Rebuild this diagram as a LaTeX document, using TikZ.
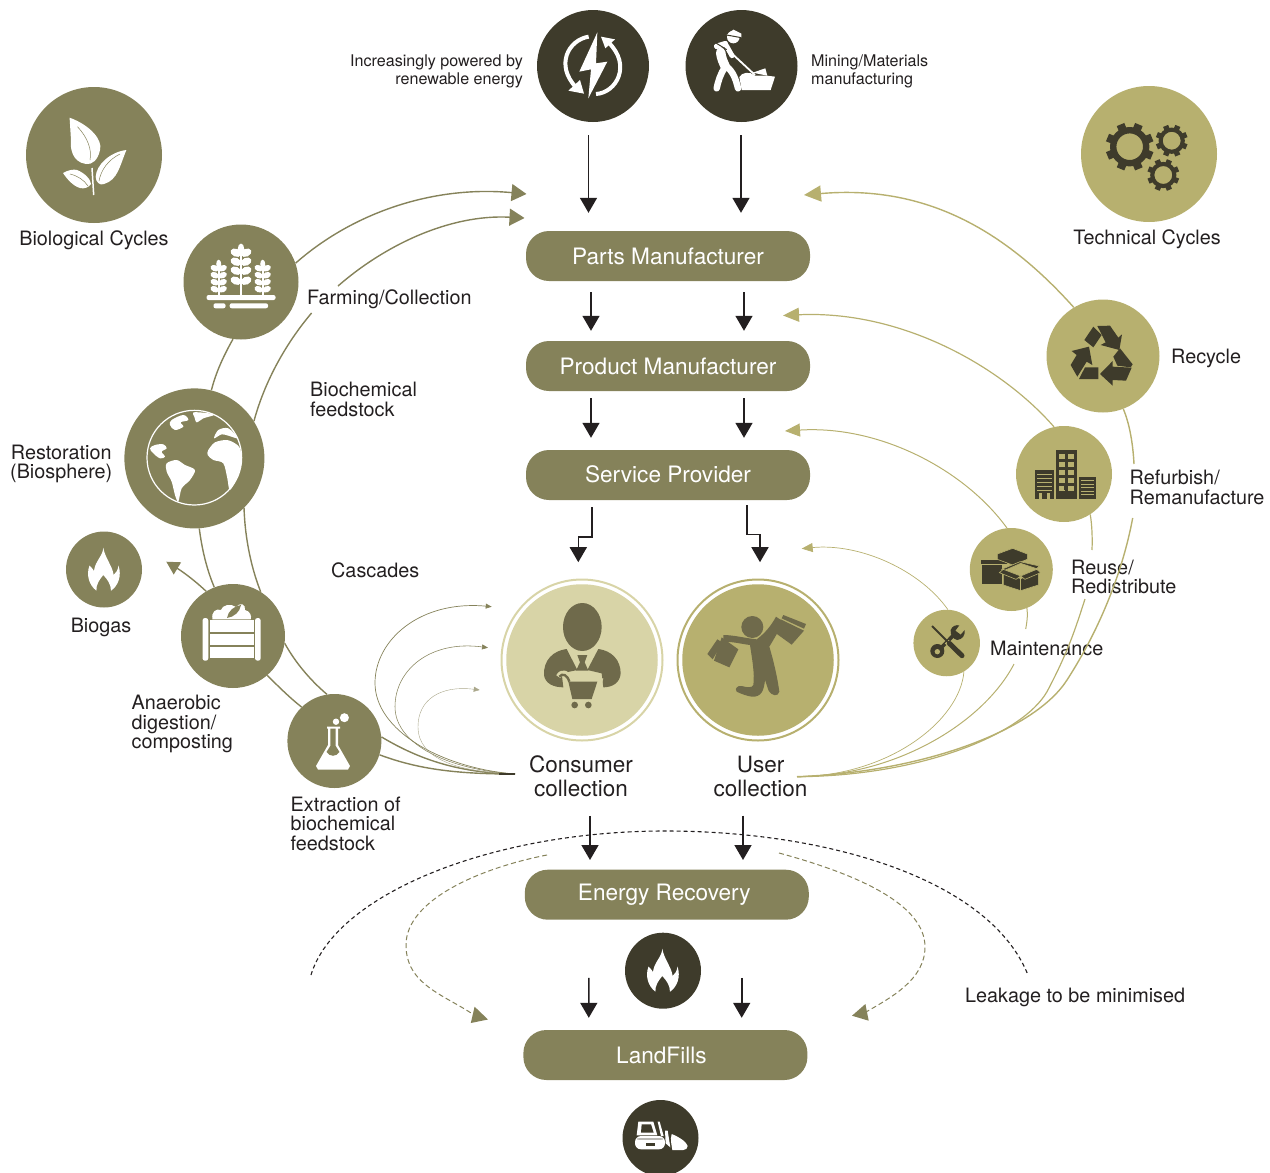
\documentclass[tikz,border=0pt]{standalone}
\usepackage{fontspec}
\setmainfont{TeX Gyre Heros}
\usetikzlibrary{arrows.meta,calc}
\definecolor{olive}{HTML}{85825A}
\definecolor{darkol}{HTML}{3E3B2B}
\definecolor{khaki}{HTML}{B7B06F}
\definecolor{lightk}{HTML}{D8D4A7}
\definecolor{figcol}{HTML}{6F6A4B}
\definecolor{inkcol}{HTML}{231F20}
\tikzset{
  disc/.style={circle,inner sep=0pt,draw=none,fill=#1},
  pill/.style={rectangle,rounded corners=23pt,minimum width=284pt,minimum height=50pt,inner sep=0pt,fill=olive,text=white,font=\fontsize{22.6}{24}\selectfont},
  lab/.style={inner sep=0pt,text=inkcol,font=\fontsize{19.8}{19.6}\selectfont},
  labsmall/.style={inner sep=0pt,text=inkcol,font=\fontsize{16.1}{18}\selectfont},
  labbig/.style={inner sep=0pt,text=inkcol,align=center,font=\fontsize{22.5}{24}\selectfont},
  flow/.style={draw=inkcol,line width=1.6pt,-{Triangle[length=15pt,width=17pt]}},
  bioline/.style={draw=olive,line width=1.4pt},
  bioarrow/.style={bioline,-{Triangle[length=15pt,width=17pt]}},
  cascade/.style={draw=olive,-{Triangle[length=6pt,width=5pt]}},
  techline/.style={draw=khaki,line width=#1},
  techline/.default=1.2pt,
  leakblack/.style={draw=inkcol,line width=1.1pt,dash pattern=on 4pt off 3pt},
  leakolive/.style={draw=olive,line width=1pt,dash pattern=on 5pt off 3pt},
}
\newcommand\fireicon[3]{%
  \fill[#3,shift={(#1,#2)}] (-.7,-22.3) .. controls (-1,-14) and (-9,-9) .. (-10,1)
    .. controls (-11,-1) and (-13,-3) .. (-14.5,-4.5) .. controls (-18,5) and (-15,15) .. (-7.6,20.7)
    .. controls (-8,15) and (-5,10) .. (-.7,5) .. controls (3,9) and (7,14) .. (7,20.7)
    .. controls (14,16) and (18,6) .. (14.5,-4.5) .. controls (14,0) and (12,3) .. (9.6,5)
    .. controls (9,-3) and (1,-12) .. (-.7,-22.3) -- cycle;
}
\newcommand\gearicon[5]{% cx cy outer hole colour
  \begin{scope}[shift={(#1,#2)}]
    \pgfmathsetmacro\gearring{0.82*#3}
    \pgfmathsetmacro\gearmid{(\gearring+#4)/2}
    \pgfmathsetmacro\gearw{\gearring-#4}
    \draw[#5,line width=\gearw pt] (0,0) circle (\gearmid);
    \foreach \ang in {0,45,...,315}{
      \fill[#5,rotate=\ang+22.5] ({0.72*#3},{-0.17*#3}) rectangle (#3,{0.17*#3});
    }
  \end{scope}
}
\newcommand\wheatstalk[5]{% x ytop ybot list size
  \draw[white,line width=1.6pt] (#1,#2) -- (#1,#3);
  \fill[white] (#1,#2) ellipse ({3.2*#5} and {5.5*#5});
  \foreach \yy in {#4}{
    \begin{scope}[shift={(#1,\yy)},scale=#5]
      \fill[white,rotate=24] (5.6,0) ellipse (5.6 and 3.9);
      \fill[white,rotate=-24] (-5.6,0) ellipse (5.6 and 3.9);
    \end{scope}
  }
}
\begin{document}
\begin{tikzpicture}[x=1pt,y=-1pt]
\clip (0,0) rectangle (1270,1173);
% ---------- nodes: discs
\node[disc=olive,minimum size=136pt] (bio) at (94,155) {};
\node[disc=olive,minimum size=115pt] (farm) at (241,282) {};
\node[disc=olive,minimum size=140pt] (rest) at (194.4,458.4) {};
\node[disc=olive,minimum size=76pt] (biogas) at (104,569.5) {};
\node[disc=olive,minimum size=104pt] (ana) at (233,636) {};
\node[disc=olive,minimum size=94pt] (ext) at (334.4,741) {};
\node[disc=darkol,minimum size=112pt] (light) at (593,66) {};
\node[disc=darkol,minimum size=112pt] (worker) at (741.5,66) {};
\node[disc=khaki,minimum size=136pt] (tech) at (1149,154) {};
\node[disc=khaki,minimum size=113pt] (recy) at (1103,356) {};
\node[disc=khaki,minimum size=96pt] (refu) at (1064,474) {};
\node[disc=khaki,minimum size=83pt] (reuse) at (1011.3,569.5) {};
\node[disc=khaki,minimum size=66.5pt] (maint) at (946.7,643) {};
\node[circle,inner sep=0pt,draw=lightk,line width=2pt,fill=white,minimum size=161pt] (conring) at (582,660) {};
\node[disc=lightk,minimum size=151.5pt] (con) at (582,660) {};
\node[circle,inner sep=0pt,draw=khaki,line width=2pt,fill=white,minimum size=161pt] (userring) at (758,660) {};
\node[disc=khaki,minimum size=151.5pt] (user) at (758,660) {};
\node[disc=darkol,minimum size=76pt] (firedark) at (663,970.7) {};
\node[disc=darkol,minimum size=76pt] (dozer) at (660.5,1138) {};
% ---------- pills
\node[pill] (parts) at (668,256) {Parts Manufacturer};
\node[pill] (product) at (668,366) {Product Manufacturer};
\node[pill] (service) at (668,475) {\raisebox{1pt}{Service Provider}};
\node[pill] (energy) at (666.8,894.7) {\hspace*{-5pt}\raisebox{-2pt}{Energy Recovery}};
\node[pill] (land) at (665.4,1055) {\hspace*{-8pt}LandFills};
% ---------- labels
\node[labsmall,align=right,anchor=east] (tpow) at (523,71) {Increasingly powered by\\renewable energy};
\node[labsmall,align=left,anchor=west] (tmin) at (811,71.5) {Mining/Materials\\manufacturing};
\node[lab] (tbio) at (94,240) {Biological Cycles};
\node[lab] (ttech) at (1147,239) {Technical Cycles};
\node[lab,anchor=west] (tfarm) at (307,299) {Farming/Collection};
\node[lab,anchor=west,align=left] (tfeed) at (310,399.2) {Biochemical\\feedstock};
\node[lab,anchor=east,align=center] (trest) at (112.5,464) {Restoration\\(Biosphere)};
\node[lab] (tgas) at (101,627) {Biogas};
\node[lab,anchor=west] (tcasc) at (331,570) {Cascades};
\node[lab,anchor=west,align=left] (tana) at (131.5,724) {Anaerobic\\digestion/\\composting};
\node[lab,anchor=west,align=left] (text) at (290.5,823.5) {Extraction of\\biochemical\\feedstock};
\node[lab,anchor=west] (trecy) at (1171,358) {Recycle};
\node[lab,anchor=west,align=left] (trefu) at (1129.5,487.5) {Refurbish/\\Remanufacture};
\node[lab,anchor=west,align=left] (treuse) at (1071,577) {Reuse/\\Redistribute};
\node[lab,anchor=west] (tmaint) at (990,648) {Maintenance};
\node[labbig] (concoll) at (581,776) {Consumer\\collection};
\node[labbig] (usercoll) at (760.5,776) {User\\collection};
\node[lab,anchor=west] (tleak) at (965,997) {Leakage to be minimised};
% ---------- free ends
\coordinate (cc) at (515,774);
\coordinate (cu) at (797,776.7);
\coordinate (gasend) at (166.3,561.7);
\coordinate (gapA) at (311.6,313);
\coordinate (gapB) at (338,286);
\coordinate (tipA) at (526.5,194);
\coordinate (tipB) at (524.5,218);
\coordinate (tipR) at (804,195);
\coordinate (tipF) at (783,315.5);
\coordinate (tipU) at (785,431);
\coordinate (tipM) at (801.7,548.6);
\coordinate (gapR1) at (1134,464);
\coordinate (gapR2) at (1132.7,518);
\coordinate (gapF1) at (1092,550);
\coordinate (gapF2) at (1085,599);
\coordinate (gapU1) at (1025.7,629);
\coordinate (gapU2) at (1014,664);
\coordinate (casc1) at (491.7,606.7);
\coordinate (casc2) at (488,647.7);
\coordinate (casc3) at (479.7,690);
\coordinate (lkL) at (311,975);
\coordinate (lkT) at (665,831);
\coordinate (lkR) at (1028,975);
\coordinate (ldL) at (547,855);
\coordinate (ldLm) at (406,945);
\coordinate (ldLe) at (474,1015);
\coordinate (ldR) at (779,853);
\coordinate (ldRm) at (925,947);
\coordinate (ldRe) at (866,1012);
% ---------- biological connectors
\draw[bioarrow] (farm.19) .. controls (350,215) and (430,185) .. (tipA);
\draw[bioarrow] (gapB) .. controls (385,245) and (450,214) .. (tipB);
\draw[bioline] (rest.32) .. controls (265,380) and (287,342) .. (gapA);
\draw[bioline] (rest.76) .. controls (216,372) and (224,355) .. (farm.262);
\draw[bioline] (rest.274) .. controls (202,550) and (207,570) .. (ana.111);
\draw[bioline] (rest.315) .. controls (245,540) and (252,570) .. (ana.58);
\draw[bioline] (ana.311) .. controls (279,687) and (290,698) .. (ext.134);
\draw[bioline] (ana.352) .. controls (295,662) and (310,680) .. (ext.99);
\draw[bioline] (ext.5) .. controls (420,760) and (460,773) .. (cc);
\draw[bioline] (ext.343) .. controls (420,770) and (460,774) .. (cc);
\draw[bioline,-{Triangle[length=13pt,width=14pt]}] (ana.121) .. controls (192,578) and (180,570) .. (gasend);
\draw[cascade,line width=.7pt] (cc) .. controls (440,768) and (375,730) .. (375,683) .. controls (375,640) and (420,600) .. (casc1);
\draw[cascade,line width=.55pt] (cc) .. controls (450,770) and (395,745) .. (395,706.7) .. controls (395,670) and (430,640) .. (casc2);
\draw[cascade,draw=olive!70,line width=.4pt] (cc) .. controls (460,772) and (418,760) .. (418,726.7) .. controls (418,700) and (440,685) .. (casc3);
\draw[draw=darkol,line width=1.4pt] (499,774) -- (cc);
% ---------- technical connectors
\draw[techline=1.4pt,-{Triangle[length=17pt,width=16pt]}] (recy.121) .. controls (1000,225) and (920,185) .. (tipR);
\draw[techline=1.2pt,-{Triangle[length=16pt,width=14pt]}] (refu.102) .. controls (1000,365) and (900,310) .. (tipF);
\draw[techline=1pt,-{Triangle[length=15pt,width=13pt]}] (reuse.96) .. controls (965,470) and (880,425) .. (tipU);
\draw[techline=.7pt,-{Triangle[length=11pt,width=9pt]}] (maint.88) .. controls (920,570) and (860,543) .. (tipM);
\draw[techline=1.4pt] (recy.291.6) .. controls (1130,425) and (1133,445) .. (gapR1);
\draw[techline=1.4pt] (gapR2) .. controls (1122,575) and (1098,632) .. (1067,680) .. controls (1035,730) and (925,772) .. (cu);
\draw[techline=1.2pt] (refu.303.7) .. controls (1092,525) and (1092.5,538) .. (gapF1);
\draw[techline=1.2pt] (gapF2) .. controls (1075,630) and (1068,652) .. (1047,691.7) .. controls (1022,735) and (920,776) .. (cu);
\draw[techline=1pt] (reuse.292.8) .. controls (1028,615) and (1027,622) .. (gapU1);
\draw[techline=1pt] (gapU2) .. controls (985,720) and (900,776) .. (cu);
\draw[techline=.7pt] (maint.301.7) .. controls (960,720) and (890,776) .. (cu);
% ---------- leakage
\draw[leakblack] (lkL) .. controls (335,895) and (490,831) .. (lkT) .. controls (830,831) and (990,880) .. (lkR);
\draw[leakolive] (ldL) .. controls (480,868) and (406,900) .. (ldLm) .. controls (406,985) and (445,995) .. (ldLe);
\fill[olive] (488,1019.5) -- (474.6,1006.7) -- (470.8,1023) -- cycle;
\draw[leakolive] (ldR) .. controls (860,875) and (925,905) .. (ldRm) .. controls (925,980) and (890,998) .. (ldRe);
\fill[olive] (852,1015.7) -- (865.4,1004) -- (868.7,1020.7) -- cycle;
% ---------- flow arrows
\draw[flow,shorten <=13pt,shorten >=18pt] ([xshift=-4.5pt]light.south) -- ([xshift=-79.5pt]parts.north);
\draw[flow,shorten <=13pt,shorten >=18pt] ([xshift=-.5pt]worker.south) -- ([xshift=73pt]parts.north);
\draw[flow,shorten <=11pt,shorten >=10pt] ([xshift=-77pt]parts.south) -- ([xshift=-77pt]product.north);
\draw[flow,shorten <=11pt,shorten >=10pt] ([xshift=76pt]parts.south) -- ([xshift=76pt]product.north);
\draw[flow,shorten <=7pt,shorten >=12pt] ([xshift=-77pt]product.south) -- ([xshift=-77pt]service.north);
\draw[flow,shorten <=7pt,shorten >=12pt] ([xshift=76pt]product.south) -- ([xshift=76pt]service.north);
\draw[flow] ([xshift=-76pt,yshift=-7pt]service.south) -- ++(0,29.7) -| ([xshift=-3.7pt,yshift=16.3pt]conring.north);
\draw[flow] ([xshift=78.7pt,yshift=-5pt]service.south) -- ++(0,29.3) -| ([xshift=2pt,yshift=16.3pt]userring.north);
\draw[flow] ([xshift=9pt,yshift=-19pt]concoll.south) -- ([xshift=-76.8pt,yshift=9.5pt]energy.north);
\draw[flow] ([xshift=-17.5pt,yshift=-19pt]usercoll.south) -- ([xshift=76.2pt,yshift=9.5pt]energy.north);
\draw[flow,shorten <=58pt,shorten >=12pt] ([xshift=-78pt]energy.south) -- ([xshift=-76.6pt]land.north);
\draw[flow,shorten <=58pt,shorten >=12pt] ([xshift=74.9pt]energy.south) -- ([xshift=76.3pt]land.north);
% ---------- icon: leaves
\fill[white] (69.6,117.7) .. controls (90,125) and (103,140) .. (100,150) .. controls (98,160) and (92,165) .. (86,164) .. controls (72,162) and (70,148) .. (71,140) -- cycle;
\draw[olive,line width=.5pt] (77.5,126.7) .. controls (88,138) and (92,150) .. (90,160);
\fill[white] (126.4,150) .. controls (110,152) and (96,165) .. (95.7,177) .. controls (95.7,182) and (100,186) .. (104,184) .. controls (118,180) and (120,165) .. (126.4,150) -- cycle;
\draw[olive,line width=.5pt] (120,154) .. controls (108,160) and (101,170) .. (99,181);
\fill[white] (63,173) .. controls (68,170) and (74,169) .. (77,170) .. controls (85,173) and (91,180) .. (91,184) .. controls (88,188) and (84,189) .. (80,188) .. controls (73,186) and (67,179) .. (63,173) -- cycle;
\draw[olive,line width=.5pt] (70,174) .. controls (78,176) and (84,180) .. (88,186);
\draw[white,line width=1.5pt] (92,168) -- (93.7,195);
% ---------- icon: wheat
\wheatstalk{241}{249}{295}{255,264,273,283}{1}
\wheatstalk{218.7}{264}{295}{270,277,284,291}{.78}
\wheatstalk{262.7}{264}{295}{270,277,284,291}{.78}
\fill[white,rounded corners=2pt] (206.6,295) rectangle (275.5,300);
\fill[white,rounded corners=2pt] (213.5,303.3) rectangle (225.5,308.3);
\fill[white,rounded corners=2pt] (229.7,303.3) rectangle (268,308.3);
% ---------- icon: globe
\begin{scope}[shift={(140,405)},scale=1/3]
  \draw[white,line width=1.2pt] (163,158) circle (142);
  \fill[white] plot[smooth cycle,tension=.6] coordinates {(95,45) (130,30) (145,45) (122,52) (130,65) (105,75) (90,60)};
  \fill[white] plot[smooth cycle,tension=.5] coordinates {(160,22) (200,24) (222,30) (190,40) (170,52) (163,35)};
  \fill[white] plot[smooth cycle,tension=.6] coordinates {(30,130) (45,120) (70,118) (80,130) (65,140) (75,155) (60,160) (40,145)};
  \fill[white] plot[smooth cycle,tension=.5] coordinates {(80,175) (110,165) (135,180) (165,195) (150,225) (125,250) (115,290) (105,270) (95,230) (80,200)};
  \fill[white] plot[smooth cycle,tension=.5] coordinates {(205,135) (225,112) (260,105) (285,115) (300,130) (305,170) (295,210) (270,255) (262,220) (250,175) (220,165) (203,150)};
  \fill[white] plot[smooth cycle,tension=.5] coordinates {(222,100) (235,75) (265,70) (295,100) (265,92) (245,88)};
\end{scope}
% ---------- icon: flames
\fireicon{104}{570}{white}
\fireicon{663}{971}{white}
% ---------- icon: compost
\fill[white,rounded corners=2.5pt] (202.5,618) rectangle (208.3,660.7);
\fill[white,rounded corners=2.5pt] (255,618) rectangle (260.7,660.7);
\fill[white] (210,620) rectangle (254,632.3);
\fill[white] (210,634.3) rectangle (254,645);
\fill[white] (210,647) rectangle (254,658.3);
\fill[white] (212.5,619.3) .. controls (211,612) and (216,608) .. (221,610) .. controls (222,605) and (231,603) .. (236,607) .. controls (240,602) and (246,604) .. (245,610) .. controls (250,611) and (252,616) .. (250.7,619.3) -- cycle;
\fill[olive] (227,618) .. controls (228,611) and (234,606) .. (241,605) .. controls (240,612) and (234,617) .. (227,618) -- cycle;
% ---------- icon: flask
\fill[white] (327,726.5) -- (340,726.5) -- (340,728.5) -- (338,728.5) -- (338,745) -- (350,766) -- (348,769.5) -- (318,769.5) -- (316,766) -- (328,745) -- (328,728.5) -- (327,728.5) -- cycle;
\fill[olive] (330.3,728.5) -- (335.7,728.5) -- (335.7,746) -- (339.5,752) .. controls (336,757) and (330,757) .. (326.5,752) -- (330.3,746) -- cycle;
\fill[white] (344.4,717.7) circle (4.5);
\fill[white] (336,721.7) circle (3.2);
% ---------- icon: lightning
\begin{scope}[shift={(520,0)},scale=1/3]
  \fill[white] (232,97) -- (178,215) -- (213,208) -- (205,295) -- (262,185) -- (228,190) -- cycle;
  \draw[white,line width=4pt] (206,110) .. controls (145,120) and (105,195) .. (168,262);
  \fill[white] (192,281) -- (145,272) -- (180,240) -- cycle;
  \draw[white,line width=4pt] (228,282) .. controls (290,278) and (335,195) .. (266,128);
  \fill[white] (243,110) -- (285,118) -- (256,145) -- cycle;
\end{scope}
% ---------- icon: worker
\begin{scope}[shift={(700,25)},scale=1/3]
  \fill[white] (100,36) circle (19);
  \fill[white] (80,30) -- (100,14) -- (124,26) -- (124,38) -- cycle;
  \draw[darkol,line width=1pt] (80,30) -- (124,38);
  \draw[white,line width=9.5pt,line cap=round] (62,82) .. controls (64,100) and (70,112) .. (76,125);
  \draw[white,line width=6.5pt,line cap=round] (74,128) .. controls (62,145) and (54,170) .. (50,190);
  \draw[white,line width=6.5pt,line cap=round] (80,125) .. controls (100,140) and (108,165) .. (114,190);
  \draw[white,line width=5.5pt,line cap=round] (50,64) -- (76,56);
  \draw[white,line width=5pt,line cap=round] (78,60) -- (96,92);
  \draw[darkol,line width=1pt] (48,54) -- (80,74);
  \draw[white,line width=1.8pt] (95,85) -- (165,150);
  \fill[white] (158,143) -- (196,130) -- (202,152) -- cycle;
  \fill[white] (118,156) .. controls (125,142) and (150,138) .. (165,152) -- (200,152) -- (225,155) -- (212,195) -- (125,195) -- cycle;
\end{scope}
% ---------- icon: gears
\gearicon{1129.7}{146.7}{24}{13.3}{darkol}
\gearicon{1171.7}{140.7}{16}{9}{darkol}
\gearicon{1163.3}{175}{16}{9}{darkol}
% ---------- icon: recycle
\begin{scope}[shift={(1060,315)},scale=1/3,darkol]
  \fill (100,35) -- (125,60) -- (100,97) -- (73,75) -- cycle;
  \fill (112,33) -- (150,32) -- (175,68) -- (186,58) -- (178,105) -- (122,90) -- (137,82) -- cycle;
  \fill (180,100) -- (218,148) -- (212,157) -- (172,152) -- (160,125) -- cycle;
  \fill (215,158) -- (198,197) -- (158,195) -- (158,212) -- (120,177) -- (158,138) -- (158,155) -- cycle;
  \fill (75,157) -- (115,157) -- (115,192) -- (57,192) -- cycle;
  \fill (35,108) -- (87,95) -- (97,150) -- (80,140) -- (52,185) -- (32,150) -- (50,120) -- cycle;
\end{scope}
% ---------- icon: buildings
\fill[darkol] (1055.7,450) rectangle (1077.3,499);
\fill[darkol] (1035,470.4) rectangle (1054,499);
\fill[darkol] (1079,476.7) rectangle (1096,499);
\foreach \yy in {454,462,470,478,486}{
  \fill[khaki] (1059,\yy) rectangle ++(5.5,4.5);
  \fill[khaki] (1068,\yy) rectangle ++(5.5,4.5);
}
\fill[darkol] (1064,486) rectangle (1068,490);
\fill[darkol] (1063,491) rectangle (1070,499);
\foreach \yy in {473.5,477.5,481.5,485.5}{
  \fill[khaki] (1037,\yy) rectangle (1052,\yy+1.6);
}
\fill[khaki] (1037,489.5) rectangle (1052,491);
\fill[khaki] (1039,493) rectangle (1041.5,499);
\fill[khaki] (1047,493) rectangle (1050,499);
\foreach \yy in {480,483.5,487,490.5,494}{
  \fill[khaki] (1081,\yy) rectangle (1094,\yy+1.4);
}
% ---------- icon: boxes
\begin{scope}[shift={(920,540)},scale=1/3]
  \fill[darkol] (183,60) rectangle (262,72);
  \fill[darkol] (186,76) rectangle (245,133);
  \filldraw[darkol,draw=khaki,line width=.6pt] (232,42) -- (278,25) -- (322,42) -- (322,58) -- (278,75) -- (232,58) -- cycle;
  \filldraw[darkol,draw=khaki,line width=.6pt] (250,96) -- (302,116) -- (355,96) -- (355,135) -- (302,152) -- (250,135) -- cycle;
  \filldraw[darkol,draw=khaki,line width=.6pt] (245,88) -- (300,65) -- (358,78) -- (350,86) -- (302,70) -- (252,92) -- cycle;
  \filldraw[darkol,draw=khaki,line width=.6pt] (238,98) -- (250,88) -- (302,108) -- (288,118) -- cycle;
  \filldraw[darkol,draw=khaki,line width=.6pt] (302,108) -- (350,88) -- (362,98) -- (315,118) -- cycle;
  \draw[khaki,line width=.6pt] (302,116) -- (302,152);
\end{scope}
% ---------- icon: tools
\begin{scope}[shift={(920,540)},scale=1/3]
  \draw[darkol,line width=3.6pt] (52,335) -- (108,278);
  \fill[darkol] (52,333) circle (21);
  \fill[khaki] (52,335) circle (8);
  \fill[darkol] (92,270) .. controls (96,258) and (108,254) .. (118,256) -- (106,272) -- (122,284) -- (134,270) .. controls (136,285) and (128,298) .. (112,300) .. controls (100,298) and (90,285) .. (92,270) -- cycle;
  \draw[khaki,line width=5pt] (80,305) -- (132,355);
  \draw[darkol,line width=2pt] (36,258) -- (85,307);
  \draw[darkol,line width=5pt,line cap=round] (88,310) -- (126,347);
\end{scope}
% ---------- icon: consumer
\begin{scope}[shift={(490,500)},scale=1/3]
  \fill[figcol] (277,381) ellipse (58 and 72);
  \fill[figcol] (230,447) .. controls (190,452) and (160,480) .. (162,525) .. controls (165,550) and (190,562) .. (220,562) -- (215,520) -- (262,510) -- cycle;
  \fill[figcol] (325,447) .. controls (365,452) and (392,480) .. (392,520) .. controls (390,550) and (365,562) .. (340,562) -- (335,520) -- (292,510) -- cycle;
  \fill[figcol] (262,465) -- (292,465) -- (284,487) -- (295,512) -- (258,512) -- (270,487) -- cycle;
  \draw[lightk,line width=5pt,line join=round] (205,530) .. controls (215,510) and (235,520) .. (240,535) -- (335,535);
  \fill[lightk] (225,535) -- (340,535) -- (320,605) -- (235,605) -- cycle;
  \draw[figcol,line width=2.4pt] (208,530) .. controls (218,518) and (232,525) .. (238,545);
  \fill[figcol] (235,545) -- (322,545) -- (305,597) -- (247,597) -- cycle;
  \fill[figcol] (254,615) circle (10);
  \fill[figcol] (295,615) circle (10);
\end{scope}
% ---------- icon: user
\begin{scope}[shift={(490,500)},scale=1/3]
  \fill[figcol] (787,381) circle (33);
  \fill[figcol] (700,405) .. controls (730,405) and (770,415) .. (800,418) .. controls (825,400) and (845,375) .. (858,350) -- (880,365) .. controls (865,395) and (850,420) .. (838,440) .. controls (850,480) and (862,530) .. (868,575) .. controls (865,590) and (845,590) .. (835,570) -- (825,540) .. controls (822,570) and (815,592) .. (785,590) .. controls (770,588) and (750,580) .. (740,575) .. controls (732,565) and (745,555) .. (755,558) .. controls (770,562) and (785,565) .. (790,555) .. controls (795,520) and (785,470) .. (780,435) .. controls (755,432) and (730,425) .. (700,425) -- cycle;
  \fill[figcol] (695,412) -- (745,448) -- (718,502) -- (672,482) -- cycle;
  \fill[figcol] (682,418) -- (698,428) -- (668,478) -- (652,462) -- cycle;
  \fill[figcol] (872,358) -- (942,392) -- (905,434) -- (858,400) -- cycle;
  \fill[figcol] (880,345) -- (948,372) -- (942,386) -- (875,355) -- cycle;
\end{scope}
% ---------- icon: bulldozer
\begin{scope}[shift={(625,1110)},scale=1/3]
  \fill[white] (40,35) -- (85,35) -- (97,76) -- (35,76) -- cycle;
  \fill[darkol] (50,43) -- (78,43) -- (86,68) -- (48,68) -- cycle;
  \fill[white,rounded corners=6pt] (30,78) rectangle (120,118);
  \fill[darkol,rounded corners=1pt] (38,88) -- (112,88) -- (112,86) -- (38,86) -- cycle;
  \fill[darkol] (62,100) rectangle (90,108);
  \fill[white] (98,35) -- (104,35) -- (116,78) -- (108,78) -- cycle;
  \fill[white] (120,62) -- (128,62) -- (136,112) -- (122,100) -- cycle;
  \fill[white] (140,72) .. controls (160,80) and (185,95) .. (188,108) .. controls (188,115) and (182,120) .. (175,120) -- (142,120) .. controls (140,105) and (135,90) .. (140,72) -- cycle;
\end{scope}
\end{tikzpicture}
\end{document}
